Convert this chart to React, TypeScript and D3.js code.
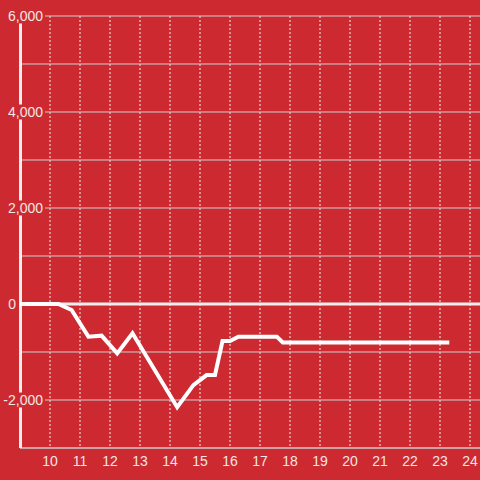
import React from "react";
import * as d3 from "d3";

const hours = [9, 10.28, 10.72, 11.28, 11.72, 12.24, 12.75, 14.24, 14.78, 15.22, 15.5, 15.75, 16.0, 16.28, 17.56, 17.76, 23.31];
const values = [0, 0, -125, -680, -660, -1030, -610, -2150, -1690, -1480, -1480, -770, -770, -680, -680, -800, -800];
const xTicks = [10, 11, 12, 13, 14, 15, 16, 17, 18, 19, 20, 21, 22, 23, 24];
const yGrid = [-2000, -1000, 1000, 2000, 3000, 4000, 5000, 6000];
const yLabels = [6000, 4000, 2000, -2000];

const BG = "#cc2a30";
const TXT = "#f3e6e6";

export default function App() {
  const W = 480, H = 480;
  const x = d3.scaleLinear().domain([9, 25]).range([20, 500]);
  const y = d3.scaleLinear().domain([-3000, 6000]).range([448, 16]);
  const fmt = d3.format(",");
  const pts: [number, number][] = hours.map((h, i) => [h, values[i]]);
  const line = d3.line<[number, number]>().x(d => x(d[0])).y(d => y(d[1]));
  return (
    <svg width={W} height={H} style={{ position: "fixed", left: 0, top: 0, background: BG }} fontFamily="'Liberation Sans', Arial, sans-serif">
      <rect x={0} y={0} width={W} height={H} fill={BG} />
      {xTicks.map(t => (
        <line key={"v" + t} x1={x(t)} x2={x(t)} y1={y(6000)} y2={y(-3000)} stroke="#eeeeee" strokeWidth={1} strokeDasharray="2,2" />
      ))}
      {yGrid.map(t => (
        <line key={"h" + t} x1={20} x2={W} y1={y(t)} y2={y(t)} stroke="#cccccc" strokeWidth={1} />
      ))}
      <line x1={20} x2={W} y1={y(-3000)} y2={y(-3000)} stroke="#cccccc" strokeWidth={1.5} />
      <line x1={20.5} x2={20.5} y1={y(6000)} y2={y(-3000)} stroke="#eeeeee" strokeWidth={3} />
      <line x1={20} x2={W} y1={y(0)} y2={y(0)} stroke="#eeeeee" strokeWidth={3} />
      {yLabels.map(t => (
        <g key={"yl" + t}>
          <rect x={0} y={y(t) - 7.5} width={45} height={15} fill={BG} />
          <text x={43} y={y(t)} dy="0.35em" textAnchor="end" fontSize={14} fill={TXT}>{fmt(t).replace("−", "-")}</text>
        </g>
      ))}
      <text x={16} y={y(0)} dy="0.35em" textAnchor="end" fontSize={14} fill={TXT}>0</text>
      {xTicks.map(t => (
        <text key={"xl" + t} x={x(t)} y={461} dy="0.35em" textAnchor="middle" fontSize={14} fill={TXT}>{t}</text>
      ))}
      <path d={line(pts) || ""} fill="none" stroke="#ffffff" strokeWidth={4} />
    </svg>
  );
}
